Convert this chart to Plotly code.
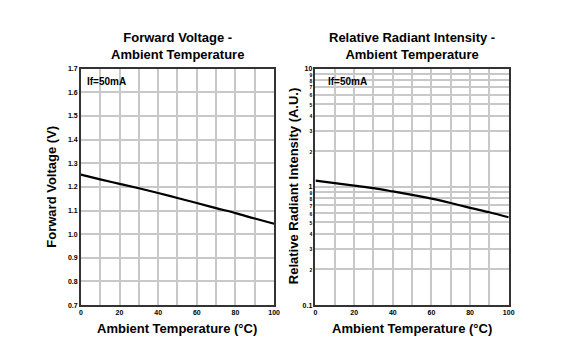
import plotly.graph_objects as go

# Data
temp = [0, 10, 20, 30, 40, 50, 60, 70, 80, 90, 100]
forward_voltage = [1.252, 1.232, 1.213, 1.194, 1.174, 1.153, 1.132, 1.110, 1.089, 1.066, 1.044]
radiant_intensity = [1.13, 1.075, 1.025, 0.975, 0.915, 0.855, 0.795, 0.73, 0.665, 0.61, 0.553]

x_ticks = [0, 10, 20, 30, 40, 50, 60, 70, 80, 90, 100]
x_ticktext = ["0", "", "20", "", "40", "", "60", "", "80", "", "100"]
vf_ticks = [0.7, 0.8, 0.9, 1.0, 1.1, 1.2, 1.3, 1.4, 1.5, 1.6, 1.7]
ri_ticks = [0.1, 0.2, 0.3, 0.4, 0.5, 0.6, 0.7, 0.8, 0.9, 1, 2, 3, 4, 5, 6, 7, 8, 9, 10]
ri_ticktext = ["0.1", "2", "3", "4", "5", "6", "7", "8", "9", "1",
               "2", "3", "4", "5", "6", "7", "8", "9", "10"]

W, H = 564, 361
def fx(px): return px / W
def fy(py): return 1 - py / H

FAM = "Liberation Sans, Arial"
small = lambda s: f"<span style='font-size:5px'>{s}</span>"
ri_text = [t if t in ("0.1", "1", "10") else small(t) for t in ri_ticktext]

fig = go.Figure()
fig.add_trace(go.Scatter(x=temp, y=forward_voltage, mode="lines",
                         line=dict(color="black", width=2.2), xaxis="x", yaxis="y",
                         showlegend=False, line_shape="spline"))
fig.add_trace(go.Scatter(x=temp, y=radiant_intensity, mode="lines",
                         line=dict(color="black", width=2.2), xaxis="x2", yaxis="y2",
                         showlegend=False, line_shape="spline"))

font_tick = dict(family=FAM, size=7, color="black", weight="bold")
axis_common = dict(showline=True, mirror=True, linecolor="#333", linewidth=1.5,
                   gridcolor="#c8c8c8", gridwidth=1.5, ticks="", zeroline=False,
                   tickfont=font_tick)

fig.update_layout(
    width=W, height=H, margin=dict(l=0, r=0, t=0, b=0),
    paper_bgcolor="white", plot_bgcolor="white",
    font=dict(family=FAM, color="black"),
    xaxis=dict(domain=[fx(80), fx(276)], range=[0, 100], tickvals=x_ticks,
               ticktext=x_ticktext, anchor="y", **axis_common),
    yaxis=dict(domain=[fy(307), fy(66)], range=[0.7, 1.7], tickvals=vf_ticks,
               tickformat=".1f", anchor="x", **axis_common),
    xaxis2=dict(domain=[fx(318), fx(514)], range=[0, 100], tickvals=x_ticks,
                ticktext=x_ticktext, anchor="y2", **axis_common),
    yaxis2=dict(domain=[fy(307), fy(66)], type="log", range=[-1, 1],
                tickvals=ri_ticks, ticktext=ri_text, anchor="x2", **axis_common),
)

ann = []
bold = lambda s: f"<b>{s}</b>"
title_font = dict(family=FAM, size=13, color="black")
for cx, t in [(178, "Forward Voltage -<br>Ambient Temperature"),
              (416, "Relative Radiant Intensity -<br>Ambient Temperature")]:
    ann.append(dict(x=fx(cx), y=fy(43), xref="paper", yref="paper", text=bold(t),
                    showarrow=False, font=title_font, xanchor="center", yanchor="middle"))
for cx in (178, 416):
    ann.append(dict(x=fx(cx), y=fy(331), xref="paper", yref="paper",
                    text=bold("Ambient Temperature (°C)"), showarrow=False,
                    font=dict(family=FAM, size=13, color="black"),
                    xanchor="center", yanchor="middle"))
ann.append(dict(x=fx(50), y=fy(186), xref="paper", yref="paper",
                text=bold("Forward Voltage (V)"), textangle=-90, showarrow=False,
                font=dict(family=FAM, size=13, color="black"),
                xanchor="center", yanchor="middle"))
ann.append(dict(x=fx(296), y=fy(186), xref="paper", yref="paper",
                text=bold("Relative Radiant Intensity (A.U.)"), textangle=-90, showarrow=False,
                font=dict(family=FAM, size=13, color="black"),
                xanchor="center", yanchor="middle"))
for lx in (106, 350):
    ann.append(dict(x=fx(lx), y=fy(79), xref="paper", yref="paper",
                    text=bold("If=50mA"), showarrow=False,
                    font=dict(family=FAM, size=10, color="black"),
                    xanchor="center", yanchor="middle"))
fig.update_layout(annotations=ann)

fig.write_html("out.html", config={"displayModeBar": False},
               post_script="document.body.style.margin='0';document.body.style.overflow='hidden';")
